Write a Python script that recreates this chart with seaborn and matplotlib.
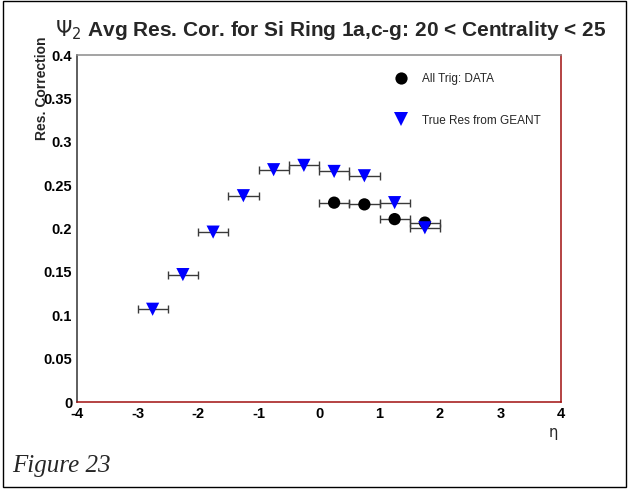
import matplotlib
matplotlib.use("Agg")
import matplotlib.pyplot as plt
from matplotlib.patches import Rectangle
from matplotlib.lines import Line2D
from matplotlib.ticker import MultipleLocator, FuncFormatter
import matplotlib.transforms as mtransforms
import seaborn as sns
import pandas as pd

# Pseudorapidity bin centres and resolution corrections
eta_data = [0.25, 0.75, 1.25, 1.75]
res_data = [0.230, 0.228, 0.211, 0.207]

eta_geant = [-2.75, -2.25, -1.75, -1.25, -0.75, -0.25, 0.25, 0.75, 1.25, 1.75]
res_geant = [0.107, 0.147, 0.196, 0.238, 0.268, 0.273, 0.266, 0.261, 0.230, 0.201]

eta_half_width = 0.25
series_names = ["All Trig: DATA", "True Res from GEANT"]

df_data = pd.DataFrame({"eta": eta_data, "res": res_data, "series": series_names[0]})
df_geant = pd.DataFrame({"eta": eta_geant, "res": res_geant, "series": series_names[1]})

sns.set_theme(style="white")
plt.rcParams["font.family"] = ["Liberation Sans", "DejaVu Sans"]
plt.rcParams["mathtext.fontset"] = "custom"
plt.rcParams["mathtext.rm"] = "DejaVu Sans"

W, H = 629, 490
fig = plt.figure(figsize=(W / 100, H / 100), dpi=100)
fig.patch.set_facecolor("white")

left, right, top, bottom = 77, 561, 55.3, 402
ax = fig.add_axes([left / W, 1 - bottom / H, (right - left) / W, (bottom - top) / H])
ax.set_facecolor("white")

err_kw = dict(fmt="none", ecolor="#3a3a3a", elinewidth=1.0, capsize=3.0, capthick=1.0, zorder=2)
ax.errorbar(df_data["eta"], df_data["res"], xerr=eta_half_width, **err_kw)
ax.errorbar(df_geant["eta"], df_geant["res"], xerr=eta_half_width, **err_kw)

sns.scatterplot(data=df_data, x="eta", y="res", marker="o", color="black",
                s=78, edgecolor="none", linewidth=0, legend=False, ax=ax, zorder=3)
sns.scatterplot(data=df_geant, x="eta", y="res", marker="v", color="#0000ff",
                s=90, edgecolor="none", linewidth=0, legend=False, ax=ax, zorder=4)

ax.set_xlim(-4, 4)
ax.set_ylim(0, 0.4)
ax.set_xlabel("")
ax.set_ylabel("")

ax.xaxis.set_major_locator(MultipleLocator(1))
ax.xaxis.set_minor_locator(MultipleLocator(0.2))
ax.yaxis.set_major_locator(MultipleLocator(0.05))
ax.yaxis.set_minor_locator(MultipleLocator(0.01))
fmt = FuncFormatter(lambda v, p: "%g" % round(v, 3))
ax.xaxis.set_major_formatter(fmt)
ax.yaxis.set_major_formatter(fmt)

ax.tick_params(axis="both", which="both", direction="in", colors="#222222",
               labelcolor="black", width=1.0)
ax.tick_params(axis="x", which="major", length=7.5, pad=3.5, labelsize=10.5)
ax.tick_params(axis="x", which="minor", length=3.8)
ax.tick_params(axis="y", which="major", length=10.4, pad=3.5, labelsize=10.5)
ax.tick_params(axis="y", which="minor", length=5.2)
ax.tick_params(top=False, right=False, which="both")
for lab in ax.get_xticklabels() + ax.get_yticklabels():
    lab.set_fontweight("bold")

# the top label is lifted above the frame edge
ylabels = ax.get_yticklabels()
ylabels[-1].set_transform(ylabels[-1].get_transform() +
                          mtransforms.ScaledTranslation(0, 5 / 72, fig.dpi_scale_trans))

for side in ax.spines:
    ax.spines[side].set_visible(True)
ax.spines["left"].set_color("#333333")
ax.spines["top"].set_color("#8a8a8a")
ax.spines["right"].set_color("#a01010")
ax.spines["bottom"].set_color("#a01010")
for side in ax.spines:
    ax.spines[side].set_linewidth(1.1)

# legend without frame
handles = [
    Line2D([], [], linestyle="none", marker="o", color="black", markersize=8.8, markeredgewidth=0),
    Line2D([], [], linestyle="none", marker="v", color="#0000ff", markersize=9.5, markeredgewidth=0),
]
ax.legend(handles, series_names, loc="upper left", frameon=False,
          bbox_to_anchor=(395 / W, 1 - 73 / H), bbox_transform=fig.transFigure,
          borderpad=0, borderaxespad=0, handlelength=1.0, handletextpad=1.3,
          labelspacing=2.5, fontsize=8.5)

fig.text(331 / W, 1 - 30 / H, r"$\Psi_2$ Avg Res. Cor. for Si Ring 1a,c-g: 20 < Centrality < 25",
         ha="center", va="center", fontsize=15, fontweight="bold")
fig.text(42 / W, 1 - 37 / H, "Res. Correction", rotation=90, ha="center", va="top",
         fontsize=10, fontweight="bold")
fig.text(553 / W, 1 - 432 / H, "η", ha="center", va="center", fontsize=10.5,
         family=["DejaVu Sans"])
fig.text(12 / W, 1 - 466 / H, "Figure 23", ha="left", va="center", fontsize=18,
         style="italic", family=["Liberation Serif"])

fig.patches.append(Rectangle((3 / W, 3 / H), 623 / W, 486 / H, transform=fig.transFigure,
                             fill=False, edgecolor="black", linewidth=1.0))

fig.savefig("out.png", dpi=100, facecolor="white")
